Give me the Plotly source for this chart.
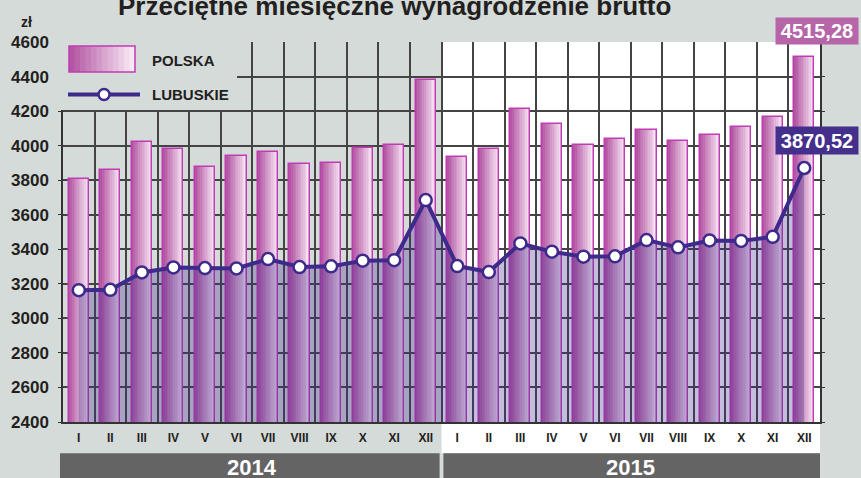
import plotly.graph_objects as go

# Przeciętne miesięczne wynagrodzenie brutto (zł), 2014-2015
miesiace = ["I", "II", "III", "IV", "V", "VI", "VII", "VIII", "IX", "X", "XI", "XII"] * 2
lata = ["2014", "2015"]
polska = [
    3805.20, 3859.59, 4020.65, 3980.86, 3877.13, 3942.28,
    3966.00, 3896.06, 3902.01, 3983.46, 4004.89, 4379.80,
    3936.00, 3983.00, 4215.00, 4126.00, 4004.00, 4039.00,
    4093.00, 4029.00, 4060.00, 4110.00, 4166.00, 4515.28,
]
lubuskie = [
    3163, 3165, 3266, 3295, 3291, 3289,
    3343, 3297, 3301, 3334, 3337, 3685,
    3303, 3268, 3434, 3386, 3357, 3359,
    3453, 3411, 3451, 3448, 3472, 3870.52,
]

BG = "#d5dbd9"
TXT = "#231f20"
INDIGO = "#3e2a8a"
MAGENTA = "#c13cb4"
FONT = "Liberation Sans"
BAR_W = 0.64
N_STRIPS = 12
GRAD_L, GRAD_R = (180, 86, 163), (247, 232, 244)


def grad(t):
    c = [round(a + (b - a) * t) for a, b in zip(GRAD_L, GRAD_R)]
    return f"rgb({c[0]},{c[1]},{c[2]})"


x = list(range(len(polska)))
fig = go.Figure()

# słupki POLSKA: gradient poziomy z kilku nakładających się pasków
step = BAR_W / N_STRIPS
for k in range(N_STRIPS):
    fig.add_trace(go.Bar(
        x=x, y=polska, offset=-BAR_W / 2 + k * step, width=BAR_W - k * step,
        marker=dict(color=grad(k / (N_STRIPS - 1)), line=dict(width=0)),
        hoverinfo="skip", showlegend=False,
    ))
fig.add_trace(go.Bar(
    x=x, y=polska, offset=-BAR_W / 2, width=BAR_W,
    marker=dict(color="rgba(0,0,0,0)", line=dict(color=MAGENTA, width=1.5)),
    name="POLSKA", showlegend=False,
))

# LUBUSKIE: linia z markerami i półprzezroczystym polem
fig.add_trace(go.Scatter(
    x=x, y=lubuskie, mode="lines+markers", fill="tozeroy",
    fillcolor="rgba(62,42,138,0.31)",
    line=dict(color=INDIGO, width=4),
    marker=dict(size=12, color="white", line=dict(color=INDIGO, width=2.5)),
    name="LUBUSKIE", showlegend=False,
))

shapes = [
    # tło 2015 (biały obszar wraz z etykietami miesięcy)
    dict(type="rect", xref="paper", yref="paper", x0=0.5, x1=1.0, y0=-0.0824, y1=1.0,
         fillcolor="white", line=dict(width=0), layer="below"),
    # paski z latami
    dict(type="rect", xref="paper", yref="paper", x0=-0.004, x1=0.4975, y0=-0.0824, y1=-0.16,
         fillcolor="#646464", line=dict(width=0)),
    dict(type="rect", xref="paper", yref="paper", x0=0.5025, x1=1.0, y0=-0.0824, y1=-0.16,
         fillcolor="#646464", line=dict(width=0)),
    # pole legendy zakrywające siatkę
    dict(type="rect", xref="paper", yref="paper", x0=-0.012, x1=0.2299, y0=0.821, y1=1.02,
         fillcolor=BG, line=dict(width=0), layer="above"),
]
# ikona legendy POLSKA
lx0, lx1, ly0, ly1 = 0.0079, 0.0951, 0.921, 0.9895
for k in range(N_STRIPS):
    shapes.append(dict(
        type="rect", xref="paper", yref="paper",
        x0=lx0 + (lx1 - lx0) * k / N_STRIPS, x1=lx1, y0=ly0, y1=ly1,
        fillcolor=grad(k / (N_STRIPS - 1)), line=dict(width=0), layer="above",
    ))
shapes.append(dict(type="rect", xref="paper", yref="paper", x0=lx0, x1=lx1, y0=ly0, y1=ly1,
                   line=dict(color=MAGENTA, width=1.5), layer="above"))
# ikona legendy LUBUSKIE
ly = (421.7 - 94.5) / 379.7
shapes.append(dict(type="line", xref="paper", yref="paper", x0=0.0066, x1=0.1017, y0=ly, y1=ly,
                   line=dict(color=INDIGO, width=4), layer="above"))
shapes.append(dict(type="circle", xref="paper", yref="paper", xsizemode="pixel", ysizemode="pixel",
                   xanchor=0.0542, yanchor=ly, x0=-5.5, x1=5.5, y0=-5.5, y1=5.5,
                   fillcolor="white", line=dict(color=INDIGO, width=2.5), layer="above"))

annotations = [
    dict(text="<b>Przeciętne miesięczne wynagrodzenie brutto</b>", xref="paper", yref="paper",
         x=0.438, y=1.096, xanchor="center", yanchor="middle", showarrow=False,
         font=dict(size=26, color=TXT, family=FONT)),
    dict(text="<b>zł</b>", xref="paper", yref="paper", x=-0.048, y=1.053,
         xanchor="center", yanchor="middle", showarrow=False,
         font=dict(size=14, color=TXT, family=FONT)),
    dict(text="<b>POLSKA</b>", xref="paper", yref="paper", x=0.115, y=(421.7 - 60) / 379.7,
         xanchor="left", yanchor="middle", showarrow=False,
         font=dict(size=15, color=TXT, family=FONT)),
    dict(text="<b>LUBUSKIE</b>", xref="paper", yref="paper", x=0.115, y=ly,
         xanchor="left", yanchor="middle", showarrow=False,
         font=dict(size=15, color=TXT, family=FONT)),
    dict(text=f"<b>{polska[-1]:.2f}</b>".replace(".", ","), x=x[-1], y=polska[-1],
         xshift=13, yshift=26, showarrow=False, bgcolor="#b565a8", borderpad=1,
         width=80, height=24, font=dict(size=20, color="white", family=FONT)),
    dict(text=f"<b>{lubuskie[-1]:.2f}</b>".replace(".", ","), x=x[-1], y=lubuskie[-1],
         xshift=13, yshift=28, showarrow=False, bgcolor="#44308c", borderpad=1,
         width=80, height=25, font=dict(size=20, color="white", family=FONT)),
]
for i, rok in enumerate(lata):
    annotations.append(dict(
        text=f"<b>{rok}</b>", xref="paper", yref="paper", x=0.25 + 0.5 * i, y=-0.1193,
        xanchor="center", yanchor="middle", showarrow=False,
        font=dict(size=22, color="white", family=FONT),
    ))

fig.update_layout(
    width=861, height=478,
    margin=dict(l=63, r=41, t=42, b=56),
    paper_bgcolor=BG, plot_bgcolor="rgba(0,0,0,0)",
    barmode="overlay", bargap=0,
    shapes=shapes, annotations=annotations,
    font=dict(family=FONT, color=TXT),
    showlegend=False,
)
fig.update_xaxes(
    range=[-0.5, len(x) - 0.5], tickmode="array", tickvals=x,
    ticktext=[f"<b>{m}</b>" for m in miesiace], tickfont=dict(size=12, color=TXT),
    showgrid=False, showline=True, linecolor="#333", linewidth=1.5,
    ticks="outside", ticklen=4, tickcolor="rgba(0,0,0,0)",
    minor=dict(tickmode="linear", tick0=-0.5, dtick=1, showgrid=True,
               gridcolor="#444", gridwidth=1.5, ticks=""),
    zeroline=False,
)
fig.update_yaxes(
    range=[2400, 4600], dtick=200, tickfont=dict(size=17, color=TXT),
    tickprefix="<b>", ticksuffix="</b>", tickformat="d",
    showgrid=True, gridcolor="#444", gridwidth=1.5,
    showline=True, linecolor="#333", linewidth=1.5, mirror="ticks",
    ticks="outside", ticklen=3, tickcolor="#333", ticklabelstandoff=6,
    zeroline=False,
)

# strona bez domyślnego marginesu, żeby wykres zajmował całe okno
fig.write_html("out.html", config={"displayModeBar": False},
               post_script="document.body.style.margin='0';")
